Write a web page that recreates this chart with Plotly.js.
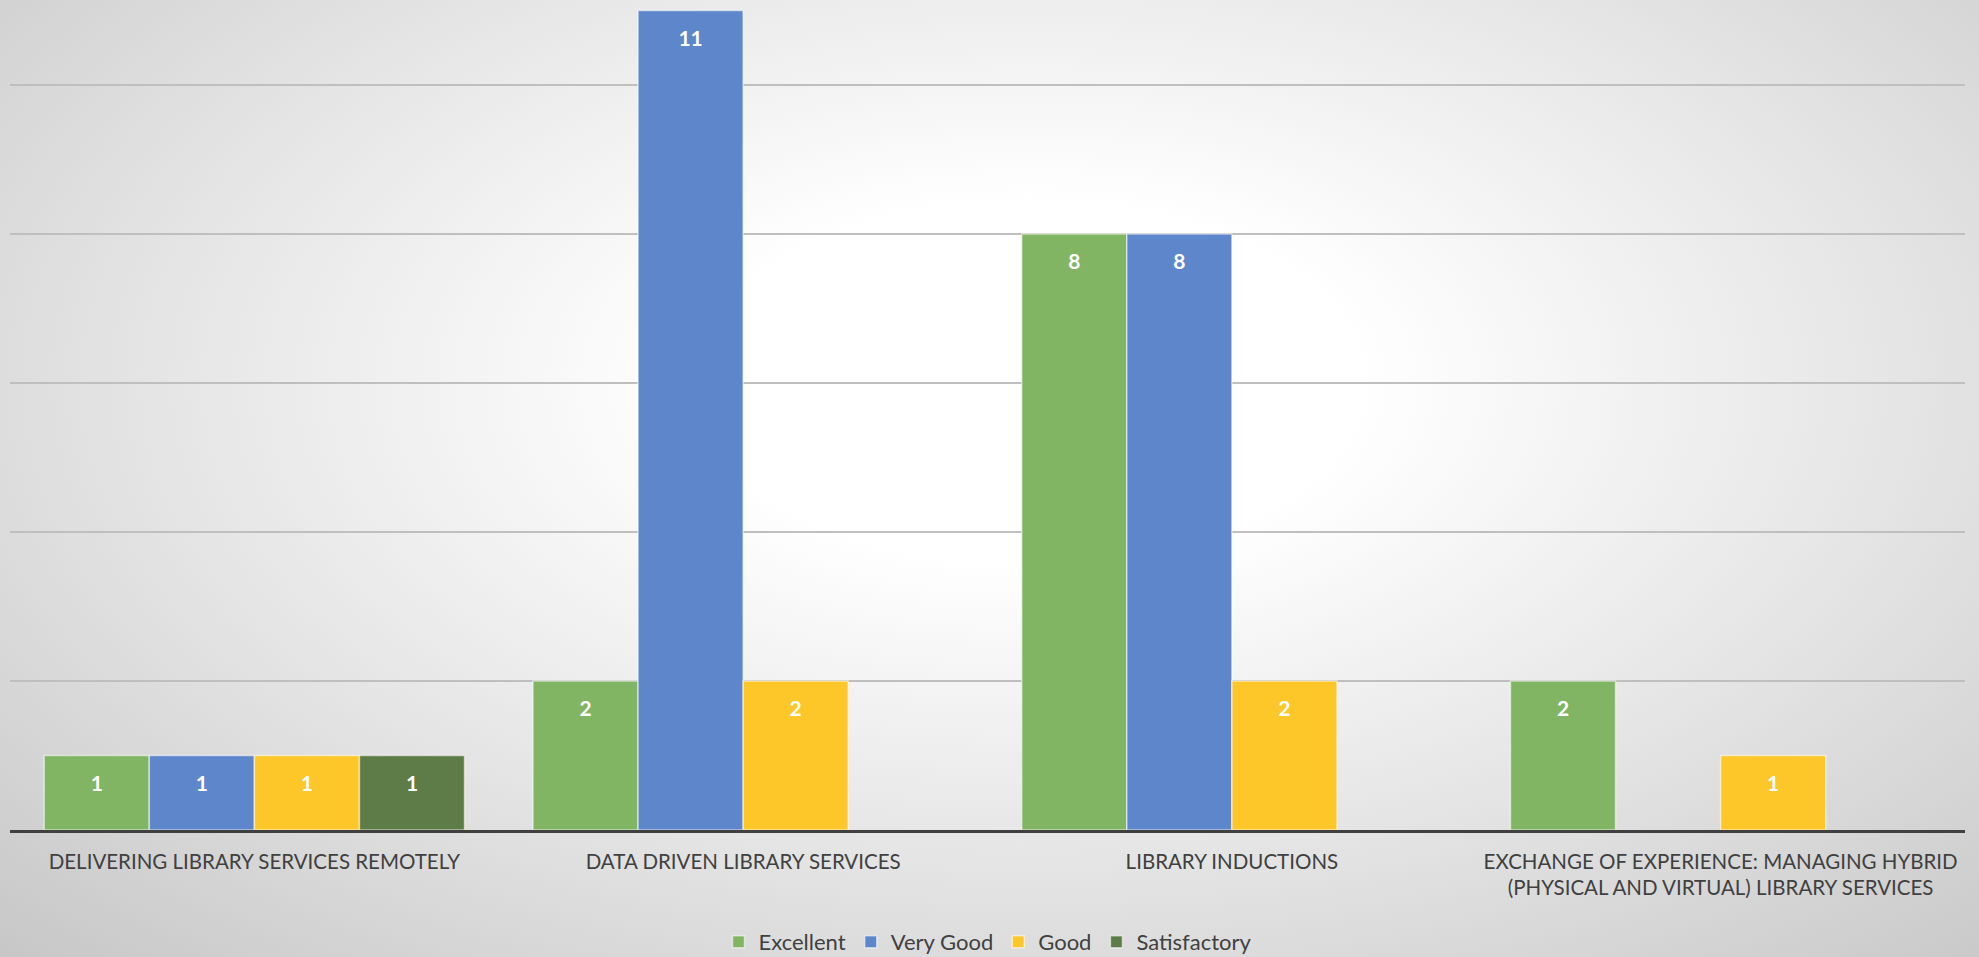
<!DOCTYPE html>
<html>
<head>
<meta charset="utf-8">
<script src="https://cdn.plot.ly/plotly-3.0.1.min.js"></script>
<style>
  html, body { margin: 0; padding: 0; width: 1979px; height: 957px; overflow: hidden; }
  body { background: radial-gradient(ellipse 75% 85% at 52% 40%, #ffffff 0%, #ffffff 22%, #e4e4e4 60%, #c6c6c6 100%); }
  #chart { width: 1979px; height: 957px; }
</style>
</head>
<body>
<div id="chart"></div>
<script>
const categories = [
  "DELIVERING LIBRARY SERVICES REMOTELY",
  "DATA DRIVEN LIBRARY SERVICES",
  "LIBRARY INDUCTIONS",
  "EXCHANGE OF EXPERIENCE: MANAGING HYBRID<br>(PHYSICAL AND VIRTUAL) LIBRARY SERVICES"
];
const seriesNames = ["Excellent", "Very Good", "Good", "Satisfactory"];
const excellent    = [1, 2, 8, 2];
const veryGood     = [1, 11, 8, null];
const good         = [1, 2, 2, 1];
const satisfactory = [1, null, null, null];
const colors = ["#82b563", "#5e86cb", "#fdc72a", "#5e7c47"];

const values = [excellent, veryGood, good, satisfactory];
const FONT = "Lato, 'Open Sans', sans-serif";
// small spacer line above each data label, to sit it lower inside the bar top
const SPACER = '<span style="font-size:5px">&nbsp;</span><br>';

const traces = values.map((vals, i) => ({
  type: "bar",
  name: seriesNames[i],
  x: categories,
  y: vals,
  text: vals.map(v => v == null ? "" : SPACER + String(v)),
  textposition: "inside",
  insidetextanchor: "end",
  textangle: 0,
  textfont: { color: "#ffffff", size: 21, family: FONT, weight: "bold" },
  marker: { color: colors[i], line: { color: "rgba(255,255,255,0.55)", width: 1.5 } },
  hoverinfo: "x+y+name"
}));

const layout = {
  width: 1979,
  height: 957,
  margin: { l: 10, r: 14, t: 0, b: 127, autoexpand: false },
  paper_bgcolor: "rgba(0,0,0,0)",
  plot_bgcolor: "rgba(0,0,0,0)",
  barmode: "group",
  bargap: 0.14,
  bargroupgap: 0,
  font: { family: FONT, color: "#404040" },
  showlegend: true,
  legend: {
    orientation: "h",
    x: 0.5, xanchor: "center",
    y: -0.135, yanchor: "middle",
    font: { size: 22, color: "#404040", family: FONT },
    bgcolor: "rgba(0,0,0,0)",
    traceorder: "normal"
  },
  xaxis: {
    type: "category",
    automargin: false,
    tickfont: { size: 20.5, color: "#404040", family: FONT },
    ticks: "",
    ticklabelstandoff: 11,
    showgrid: false,
    showline: true,
    linecolor: "#404040",
    linewidth: 3,
    zeroline: false,
    fixedrange: true
  },
  yaxis: {
    range: [0, 11.14],
    dtick: 2,
    automargin: false,
    showticklabels: false,
    ticks: "",
    showgrid: true,
    gridcolor: "#bfbfbf",
    gridwidth: 1.5,
    zeroline: false,
    showline: false,
    fixedrange: true
  }
};

Plotly.newPlot("chart", traces, layout, { displayModeBar: false, staticPlot: true });
</script>
</body>
</html>
